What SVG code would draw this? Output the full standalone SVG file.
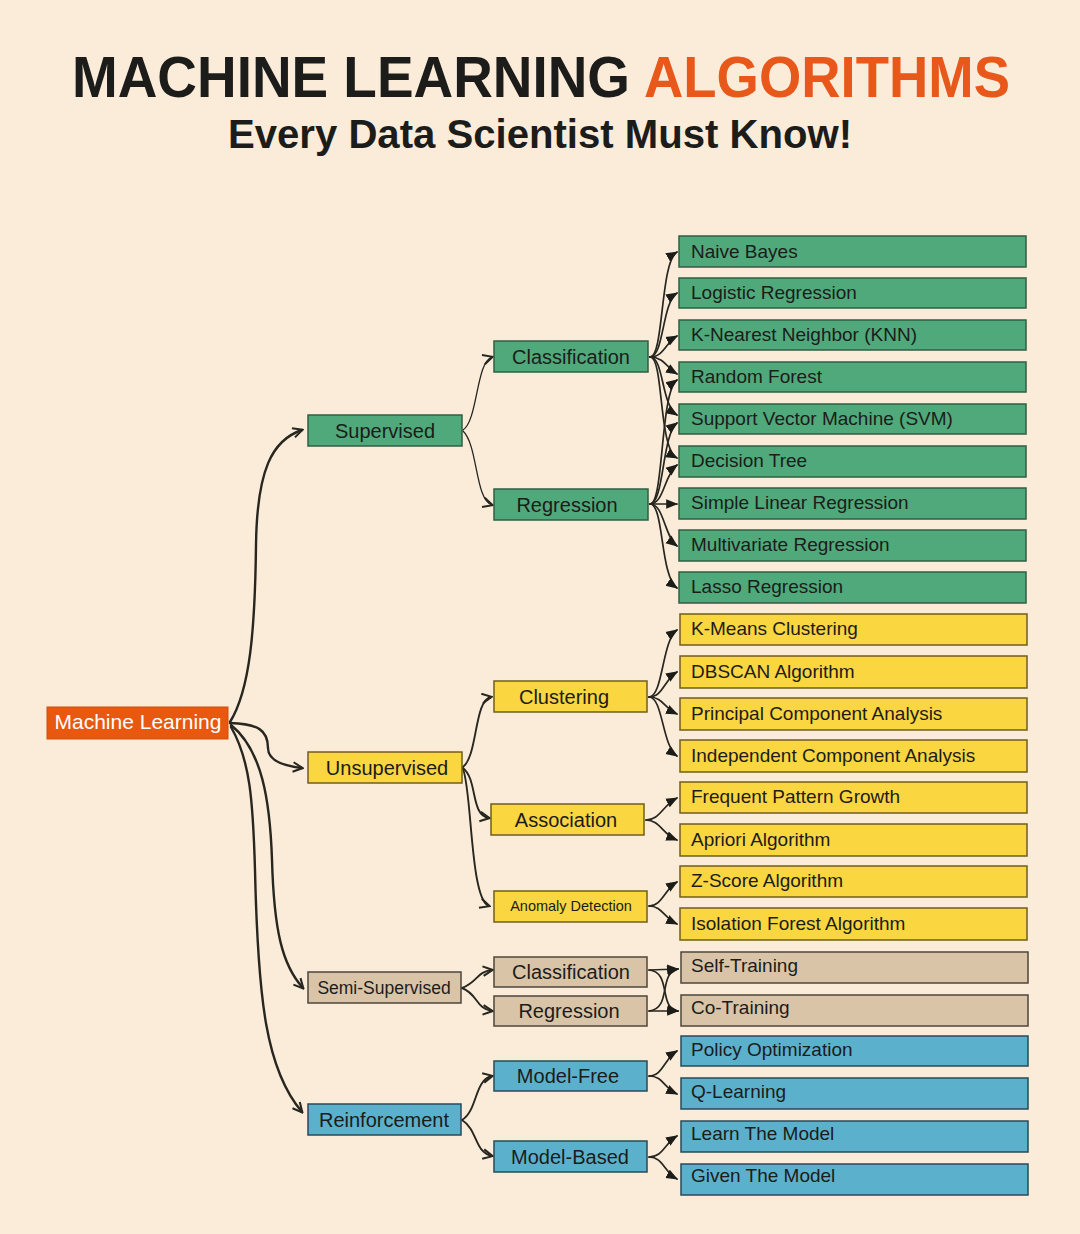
<svg xmlns="http://www.w3.org/2000/svg" width="1080" height="1234" viewBox="0 0 1080 1234">
<style>
text{font-family:"Liberation Sans",Arial,sans-serif;fill:#1c1c1a}
.t{font-weight:700}
.lf{font-size:19px}
.md{font-size:20px;text-anchor:middle}
.g{fill:#4FA97B;stroke:#2F5F44;stroke-width:1.5}
.y{fill:#FAD641;stroke:#6F5E1C;stroke-width:1.5}
.n{fill:#D9C4A8;stroke:#4E463C;stroke-width:1.5}
.b{fill:#5BB1CB;stroke:#274A5A;stroke-width:1.5}
.c{fill:none;stroke:#27261F;stroke-linecap:round}
.r{stroke-width:2.4;marker-end:url(#open)}
.m{stroke-width:1.9;marker-end:url(#open)}
.l{stroke-width:1.7;marker-end:url(#tri)}
</style>
<defs>
<marker id="open" viewBox="0 0 10 10" refX="8.5" refY="5" markerWidth="12" markerHeight="12" orient="auto" markerUnits="userSpaceOnUse"><path d="M1,1 L9,5 L1,9" fill="none" stroke="#27261F" stroke-width="1.7"/></marker>
<marker id="tri" viewBox="0 0 10 10" refX="9" refY="5" markerWidth="12" markerHeight="12" orient="auto" markerUnits="userSpaceOnUse"><path d="M0,1 L10,5 L0,9 z" fill="#1c1c18"/></marker>
</defs>
<rect width="1080" height="1234" fill="#FBECDA"/>
<g id="title">
<text class="t" x="72" y="97" font-size="58" textLength="558" lengthAdjust="spacingAndGlyphs">MACHINE LEARNING</text>
<text class="t" x="644" y="97" font-size="58" textLength="366" lengthAdjust="spacingAndGlyphs" style="fill:#E8581A">ALGORITHMS</text>
<text class="t" x="228" y="148" font-size="40" textLength="624" lengthAdjust="spacingAndGlyphs">Every Data Scientist Must Know!</text>
</g>
<g id="connectors">
<path class="c r" d="M230,722 C250,690 255,630 256,545 C257,470 272,440 302,430"/>
<path class="c r" d="M230,723 C258,724 268,730 268,748 C268,761 284,766 302,768"/>
<path class="c r" d="M231,725 C262,750 270,800 272,860 C274,930 282,965 303,988"/>
<path class="c r" d="M231,727 C250,760 253,800 255,870 C258,1000 266,1070 302,1112"/>
<path class="c m" style="stroke-width:1.3" d="M463,430 C478,420 476,362 492,357"/>
<path class="c m" style="stroke-width:1.3" d="M463,431 C478,445 475,500 492,505"/>
<path class="c m" d="M463,767 C478,755 474,700 491,697"/>
<path class="c m" d="M463,768 C478,780 470,815 489,818"/>
<path class="c m" d="M463,769 C472,790 470,900 489,906"/>
<path class="c m" d="M462,988 C478,982 476,972 492,970"/>
<path class="c m" d="M462,988 C478,994 476,1009 492,1011"/>
<path class="c m" d="M462,1120 C478,1110 474,1080 492,1076"/>
<path class="c m" d="M462,1120 C478,1130 474,1152 492,1156"/>
<path class="c l" d="M650,357 C664,357 660,262 677,252"/>
<path class="c l" d="M650,357 C664,357 662,302 677,293"/>
<path class="c l" d="M650,357 C664,357 666,342 677,336"/>
<path class="c l" d="M650,357 C664,357 667,368 677,374"/>
<path class="c l" d="M650,357 C664,357 661,405 677,415"/>
<path class="c l" d="M650,357 C664,357 658,448 677,458"/>
<path class="c l" d="M650,504 C664,504 660,392 677,380"/>
<path class="c l" d="M650,504 C664,504 662,434 677,423"/>
<path class="c l" d="M650,504 C664,504 664,475 677,465"/>
<path class="c l" d="M650,504 L677,504"/>
<path class="c l" d="M650,504 C664,504 664,536 677,546"/>
<path class="c l" d="M650,504 C664,504 660,576 677,588"/>
<path class="c l" d="M649,697 C663,697 662,640 677,630"/>
<path class="c l" d="M649,697 C663,697 664,680 677,672"/>
<path class="c l" d="M649,697 C663,697 664,708 677,714"/>
<path class="c l" d="M649,697 C663,697 662,746 677,756"/>
<path class="c l" d="M646,820 C660,820 662,806 677,798"/>
<path class="c l" d="M646,820 C660,820 662,834 677,840"/>
<path class="c l" d="M649,906 C662,906 664,890 677,882"/>
<path class="c l" d="M649,906 C662,906 664,918 677,924"/>
<path class="c l" d="M649,970 L678,969"/>
<path class="c l" d="M649,970 C672,972 658,1008 678,1011"/>
<path class="c l" d="M649,1011 L678,1011"/>
<path class="c l" d="M649,1011 C672,1009 658,973 678,969"/>
<path class="c l" d="M649,1076 C663,1076 664,1059 677,1051"/>
<path class="c l" d="M649,1076 C663,1076 664,1088 677,1094"/>
<path class="c l" d="M649,1157 C663,1157 664,1144 677,1136"/>
<path class="c l" d="M649,1157 C663,1157 664,1172 677,1179"/>
</g>
<g id="n-root"><rect x="47" y="707" width="181" height="32" fill="#E8590F" stroke="#D14E08" stroke-width="1"/><text x="138" y="729" font-size="21" text-anchor="middle" style="fill:#fff">Machine Learning</text></g>
<g id="n-supervised"><rect class="g" x="308" y="415" width="154" height="31"/><text class="md" x="385" y="438">Supervised</text></g>
<g id="n-unsupervised"><rect class="y" x="308" y="752" width="154" height="31"/><text class="md" x="387" y="775">Unsupervised</text></g>
<g id="n-semi"><rect class="n" x="308" y="972" width="153" height="31"/><text x="384" y="994" font-size="17.5" text-anchor="middle">Semi-Supervised</text></g>
<g id="n-reinforcement"><rect class="b" x="308" y="1104" width="153" height="31"/><text class="md" x="384" y="1127">Reinforcement</text></g>
<g id="n-s-class"><rect class="g" x="494" y="341" width="154" height="31"/><text class="md" x="571" y="364">Classification</text></g>
<g id="n-s-reg"><rect class="g" x="494" y="489" width="154" height="31"/><text class="md" x="567" y="512">Regression</text></g>
<g id="n-clustering"><rect class="y" x="494" y="681" width="153" height="31"/><text class="md" x="564" y="704">Clustering</text></g>
<g id="n-association"><rect class="y" x="491" y="804" width="153" height="31"/><text class="md" x="566" y="827">Association</text></g>
<g id="n-anomaly"><rect class="y" x="494" y="891" width="153" height="31"/><text x="571" y="911" font-size="14.5" text-anchor="middle">Anomaly Detection</text></g>
<g id="n-ss-class"><rect class="n" x="494" y="957" width="153" height="30"/><text class="md" x="571" y="979">Classification</text></g>
<g id="n-ss-reg"><rect class="n" x="494" y="996" width="153" height="30"/><text class="md" x="569" y="1018">Regression</text></g>
<g id="n-model-free"><rect class="b" x="494" y="1061" width="153" height="30"/><text class="md" x="568" y="1083">Model-Free</text></g>
<g id="n-model-based"><rect class="b" x="494" y="1141" width="153" height="31"/><text class="md" x="570" y="1164">Model-Based</text></g>
<g id="l-naive"><rect class="g" x="679" y="236" width="347" height="31"/><text class="lf" x="691" y="258">Naive Bayes</text></g>
<g id="l-logistic"><rect class="g" x="679" y="278" width="347" height="30"/><text class="lf" x="691" y="299">Logistic Regression</text></g>
<g id="l-knn"><rect class="g" x="679" y="320" width="347" height="30"/><text class="lf" x="691" y="341">K-Nearest Neighbor (KNN)</text></g>
<g id="l-rf"><rect class="g" x="679" y="362" width="347" height="30"/><text class="lf" x="691" y="383">Random Forest</text></g>
<g id="l-svm"><rect class="g" x="679" y="404" width="347" height="30"/><text class="lf" x="691" y="425">Support Vector Machine (SVM)</text></g>
<g id="l-dt"><rect class="g" x="679" y="446" width="347" height="31"/><text class="lf" x="691" y="467">Decision Tree</text></g>
<g id="l-slr"><rect class="g" x="679" y="488" width="347" height="31"/><text class="lf" x="691" y="509">Simple Linear Regression</text></g>
<g id="l-mr"><rect class="g" x="679" y="530" width="347" height="31"/><text class="lf" x="691" y="551">Multivariate Regression</text></g>
<g id="l-lasso"><rect class="g" x="679" y="572" width="347" height="31"/><text class="lf" x="691" y="593">Lasso Regression</text></g>
<g id="l-kmeans"><rect class="y" x="680" y="614" width="347" height="31"/><text class="lf" x="691" y="635">K-Means Clustering</text></g>
<g id="l-dbscan"><rect class="y" x="680" y="656" width="347" height="32"/><text class="lf" x="691" y="678">DBSCAN Algorithm</text></g>
<g id="l-pca"><rect class="y" x="680" y="698" width="347" height="32"/><text class="lf" x="691" y="720">Principal Component Analysis</text></g>
<g id="l-ica"><rect class="y" x="680" y="740" width="347" height="32"/><text class="lf" x="691" y="762">Independent Component Analysis</text></g>
<g id="l-fpg"><rect class="y" x="680" y="782" width="347" height="31"/><text class="lf" x="691" y="803">Frequent Pattern Growth</text></g>
<g id="l-apriori"><rect class="y" x="680" y="824" width="347" height="32"/><text class="lf" x="691" y="846">Apriori Algorithm</text></g>
<g id="l-zscore"><rect class="y" x="680" y="866" width="347" height="31"/><text class="lf" x="691" y="887">Z-Score Algorithm</text></g>
<g id="l-iso"><rect class="y" x="680" y="908" width="347" height="32"/><text class="lf" x="691" y="930">Isolation Forest Algorithm</text></g>
<g id="l-self"><rect class="n" x="681" y="952" width="347" height="31"/><text class="lf" x="691" y="972">Self-Training</text></g>
<g id="l-co"><rect class="n" x="681" y="995" width="347" height="31"/><text class="lf" x="691" y="1014">Co-Training</text></g>
<g id="l-policy"><rect class="b" x="681" y="1036" width="347" height="30"/><text class="lf" x="691" y="1056">Policy Optimization</text></g>
<g id="l-q"><rect class="b" x="681" y="1078" width="347" height="31"/><text class="lf" x="691" y="1098">Q-Learning</text></g>
<g id="l-learn"><rect class="b" x="681" y="1121" width="347" height="31"/><text class="lf" x="691" y="1140">Learn The Model</text></g>
<g id="l-given"><rect class="b" x="681" y="1164" width="347" height="31"/><text class="lf" x="691" y="1182">Given The Model</text></g>
</svg>
